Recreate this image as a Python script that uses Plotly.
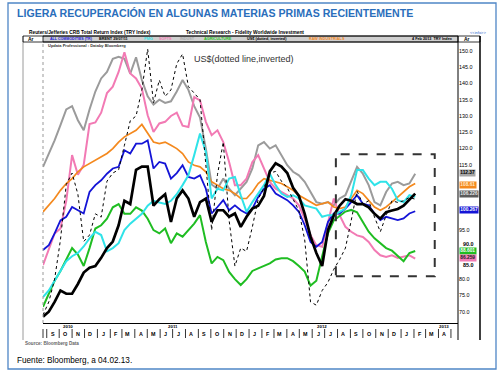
import pandas as pd
import plotly.graph_objects as go

# ---------------- data ----------------
dates = pd.date_range("2010-08-23", periods=65, freq="14D")

indust = [114.4, 118.5, 122.5, 127.2, 132.0, 133.0, 128.7, 125.6, 132.0, 137.5,
          141.5, 143.5, 147.5, 148.1, 147.5, 143.0, 148.0, 141.0, 136.0, 133.5,
          135.0, 134.0, 134.5, 137.5, 141.0, 138.0, 133.0, 129.5, 120.0, 109.0,
          107.7, 110.8, 107.7, 105.7, 107.7, 109.8, 113.9, 121.0, 122.0, 120.0,
          121.0, 118.0, 114.9, 112.9, 111.8, 109.8, 106.7, 103.6, 103.1, 103.6,
          102.6, 104.7, 105.7, 109.8, 114.4, 112.3, 108.8, 103.6, 102.6, 106.7,
          109.3, 109.8, 108.8, 109.3, 112.3]

softs = [84.3, 89.4, 94.0, 95.5, 104.0, 118.0, 112.0, 115.0, 127.5, 128.0,
         131.0, 137.0, 139.0, 143.5, 149.5, 143.0, 141.5, 138.4, 130.2, 125.1,
         127.7, 128.2, 130.0, 131.0, 127.0, 126.6, 135.8, 134.8, 128.2, 124.1,
         125.6, 122.0, 115.9, 108.8, 108.8, 110.8, 115.9, 118.0, 113.9, 109.8,
         107.7, 106.7, 105.7, 104.7, 102.6, 98.5, 93.4, 90.4, 89.9, 97.5,
         104.7, 99.6, 96.0, 94.5, 93.4, 92.9, 91.4, 88.9, 87.3, 86.8,
         87.3, 86.5, 86.8, 87.3, 86.3]

raw_ind = [100.6, 102.6, 104.7, 107.2, 109.3, 110.8, 112.9, 114.4, 115.4, 116.4,
           117.5, 118.5, 120.0, 122.0, 123.6, 124.6, 125.6, 127.4, 124.6, 122.0,
           121.5, 122.0, 121.0, 120.0, 118.5, 115.9, 114.9, 114.4, 112.9, 109.8,
           108.8, 107.7, 107.2, 106.2, 104.7, 104.7, 106.7, 109.3, 110.8, 110.3,
           109.8, 109.3, 108.3, 107.2, 105.7, 104.7, 103.6, 102.6, 103.1, 103.6,
           102.1, 101.6, 102.1, 104.7, 107.2, 106.2, 104.2, 102.1, 101.1, 102.1,
           103.6, 105.2, 106.7, 108.3, 109.3]

all_comm = [88.9, 90.4, 94.0, 98.0, 99.1, 102.1, 101.1, 100.1, 106.7, 108.8,
            110.3, 112.3, 113.9, 114.4, 119.5, 118.5, 121.5, 121.5, 122.5, 113.9,
            115.9, 115.4, 110.8, 112.5, 114.9, 111.3, 110.8, 111.8, 107.7, 100.1,
            102.1, 104.2, 101.1, 102.6, 101.1, 100.1, 101.6, 105.2, 107.7, 108.8,
            106.2, 105.2, 104.2, 102.6, 100.6, 96.5, 91.4, 89.9, 91.4, 97.5,
            100.1, 100.1, 101.6, 103.6, 105.7, 103.1, 102.6, 100.1, 98.1, 99.1,
            98.6, 98.1, 98.6, 100.1, 100.8]

pmg = [74.5, 76.5, 79.5, 82.5, 85.5, 87.0, 88.0, 90.0, 92.5, 94.5,
       93.5, 88.5, 89.5, 91.0, 95.0, 97.0, 98.5, 100.0, 102.5, 104.0,
       103.5, 103.0, 104.0, 106.0, 108.8, 111.8, 118.0, 124.6, 119.0, 104.7,
       107.7, 107.2, 110.8, 111.3, 105.7, 100.6, 103.6, 106.2, 108.8, 112.3,
       108.8, 106.2, 105.2, 105.7, 104.7, 102.6, 102.1, 101.6, 99.1, 99.6,
       99.6, 100.6, 101.6, 105.7, 113.4, 113.4, 110.8, 108.8, 109.8, 109.8,
       107.7, 104.2, 103.6, 105.7, 105.2]

brent = [68.5, 70.0, 73.0, 76.5, 75.5, 75.5, 78.5, 82.0, 83.5, 84.0,
         86.5, 89.5, 91.5, 96.5, 104.0, 103.0, 113.5, 114.5, 114.5, 102.5,
         104.5, 106.0, 97.5, 104.7, 107.2, 104.7, 99.1, 103.6, 104.7, 97.5,
         101.1, 101.1, 99.1, 100.1, 96.0, 99.1, 101.6, 102.5, 105.5, 113.0,
         115.5, 114.5, 112.5, 108.0, 105.5, 100.0, 93.0, 88.0, 84.0, 95.0,
         99.5, 102.5, 104.5, 104.0, 103.0, 103.0, 102.0, 100.0, 98.5, 100.5,
         101.0, 101.5, 102.5, 104.5, 106.2]

agri = [71.5, 75.5, 79.5, 82.5, 86.0, 89.5, 87.5, 84.0, 89.5, 95.5,
        96.5, 98.5, 102.0, 103.0, 100.0, 100.0, 102.0, 101.0, 98.5, 95.0,
        94.0, 95.5, 91.0, 94.0, 93.0, 95.0, 97.0, 99.6, 91.4, 84.8,
        86.8, 85.8, 82.2, 80.0, 78.2, 80.0, 82.5, 83.3, 84.0, 84.8,
        86.0, 86.4, 86.4, 85.5, 84.0, 82.3, 78.0, 79.5, 87.0, 94.0,
        98.0, 99.5, 100.7, 101.2, 100.5, 97.5, 94.5, 92.5, 91.0, 89.5,
        88.7, 87.0, 85.5, 88.0, 88.6]

usd_inv = [69.0, 73.0, 80.0, 92.0, 109.0, 112.5, 106.0, 91.5, 93.5, 100.0,
           99.0, 110.0, 112.5, 113.5, 121.0, 128.5, 130.0, 138.0, 150.5, 134.0,
           141.0, 136.0, 138.0, 146.0, 149.0, 139.0, 137.0, 135.0, 115.0, 95.0,
           112.0, 122.0, 98.0, 84.0, 89.5, 88.5, 96.0, 104.5, 108.0, 112.5,
           113.0, 110.0, 108.0, 104.5, 101.0, 92.0, 73.0, 72.0, 76.5, 79.0,
           83.0, 86.0, 89.5, 98.0, 107.0, 103.0, 104.0, 99.0, 94.5, 99.5,
           104.0, 103.5, 104.0, 105.0, 104.5]

# right-axis tick labels drawn by the axis; 85/90 are nudged clear of the value tags
y_ticks = [70, 75, 80, 95, 115, 120, 125, 130, 135, 140, 145, 150]
y_ticks_nudged = ["90.0", "85.0"]
y_ticks_nudged_py = [244.3, 265.0]

month_letters = ["S", "O", "N", "D", "J", "F", "M", "A", "M", "J", "J", "A",
                 "S", "O", "N", "D", "J", "F", "M", "A", "M", "J", "J", "A",
                 "S", "O", "N", "D", "J", "F", "M", "A"]
month_starts = pd.date_range("2010-09-01", periods=33, freq="MS")
year_labels = ["2010", "2011", "2012", "2013"]
year_label_dates = ["2010-10-23", "2011-07-01", "2012-06-24", "2013-04-15"]

last_labels = ["112.37", "108.61", "106.226", "100.267", "88.601", "86.259"]
last_label_py = [173, 185, 194, 210, 251, 257.5]

box_x = ["2012-07-28", "2013-03-23"]
box_y = [80.9, 118.3]

# ---------------- styling ----------------
C_BLUE = "#1414d6"
C_CYAN = "#2fe3e8"
C_PINK = "#f27ab4"
C_GREY = "#9b9b9b"
C_GREEN = "#1fbd22"
C_ORANGE = "#f4891e"
NARROW = "Liberation Sans Narrow, Liberation Sans, Arial"
SANS = "Liberation Sans, Arial"

L, R, T, B = 43, 458, 42, 323   # plot area in pixels


def PX(p):
    return (p - L) / (R - L)


def PY(p):
    return (B - p) / (B - T)


fig = go.Figure()

series = [
    (indust, C_GREY, 2.0, None),
    (softs, C_PINK, 2.0, None),
    (raw_ind, C_ORANGE, 1.7, None),
    (all_comm, C_BLUE, 1.8, None),
    (agri, C_GREEN, 2.0, None),
    (pmg, C_CYAN, 2.0, None),
    (brent, "#000000", 2.7, None),
    (usd_inv, "#000000", 1.0, "dot"),
]
for vals, col, w, dash in series:
    fig.add_trace(go.Scatter(x=dates, y=vals, mode="lines",
                             line=dict(color=col, width=w, dash=dash),
                             showlegend=False, hoverinfo="skip"))

shapes = []
shapes.append(dict(type="rect", xref="x", yref="y", x0=box_x[0], x1=box_x[1],
                   y0=box_y[0], y1=box_y[1],
                   line=dict(color="#333333", width=2, dash="dash")))
shapes.append(dict(type="line", xref="paper", yref="paper", x0=0, x1=0, y0=0, y1=1,
                   line=dict(color="#999999", width=1, dash="dot")))
shapes.append(dict(type="line", xref="paper", yref="paper", x0=PX(23), x1=PX(23),
                   y0=PY(340), y1=PY(36), line=dict(color="#9a9a9a", width=1)))
shapes.append(dict(type="line", xref="paper", yref="paper", x0=PX(480), x1=PX(480),
                   y0=PY(340), y1=PY(36), line=dict(color="#000000", width=1.5)))
shapes.append(dict(type="line", xref="paper", yref="paper", x0=1, x1=1,
                   y0=PY(340), y1=PY(36), line=dict(color="#000000", width=1)))
shapes.append(dict(type="rect", xref="paper", yref="paper", x0=PX(43), x1=1,
                   y0=PY(42), y1=PY(36), fillcolor="#cfcfcf",
                   line=dict(color="#000000", width=0.8), layer="below"))
shapes.append(dict(type="rect", xref="paper", yref="paper", x0=PX(23), x1=PX(480),
                   y0=PY(42), y1=PY(36), line=dict(color="#000000", width=0.8)))
for d in month_starts:
    shapes.append(dict(type="line", xref="x", yref="paper", x0=d, x1=d,
                       y0=PY(338), y1=PY(329), line=dict(color="#000000", width=0.8)))
shapes.append(dict(type="line", xref="paper", yref="paper", x0=0, x1=0,
                   y0=PY(338), y1=PY(329), line=dict(color="#000000", width=0.8)))
shapes.append(dict(type="rect", xref="paper", yref="paper", x0=PX(8), x1=PX(496),
                   y0=PY(369), y1=PY(3), line=dict(color="#4f86c6", width=1.3)))

ann = []


def text(px, py, s, size, color="#000000", family=NARROW, bold=True,
         anchor="left"):
    t = f"<b>{s}</b>" if bold else s
    ann.append(dict(xref="paper", yref="paper", x=PX(px), y=PY(py), text=t,
                    showarrow=False, xanchor=anchor, yanchor="middle",
                    font=dict(size=size, color=color, family=family)))


text(15, 13, "LIGERA RECUPERACIÓN EN ALGUNAS MATERIAS PRIMAS RECIENTEMENTE", 10.6,
     color="#2a6ebb", family=SANS)
text(27, 32.5, "Reuters/Jefferies CRB Total Return Index (TRY Index)", 4.8)
text(184, 32.5, "Technical Research - Fidelity Worldwide Investment", 4.8)
text(468, 32.5, "&lt;&lt;info&gt;&gt;", 4.0, color="#3366cc", bold=False)
text(26, 39, "Ar", 5.0)
text(462, 39, "Ar", 5.0)
hdr = [(48, "ALL COMMODITIES (TR)", C_BLUE, 3.6), (97, "BRENT 29/07/11", "#000000", 3.8),
       (142, "PMG", C_CYAN, 3.8), (157, "SOFTS", C_PINK, 3.8),
       (178, "INDUST", "#a8a8a8", 3.8), (202, "AGRICULTURE", C_GREEN, 3.8),
       (245, "US$ (dotted, inverted)", "#000000", 3.8),
       (307, "RAW INDUSTRIALS", C_ORANGE, 3.8)]
for px, s, c, sz in hdr:
    text(px, 39, s, sz, color=c)
text(455, 39, "4 Feb 2013  TRY Index", 3.8, anchor="right")
text(46, 45.5, "Updata Professional : Databy Bloomberg", 4.0, color="#333333")
text(192, 59, "US$(dotted line,inverted)", 9.0, color="#333333", family=SANS, bold=False)
text(23, 343.5, "Source: Bloomberg Data", 4.6, color="#666666")
text(15, 360.5, "Fuente: Bloomberg, a 04.02.13.", 8.2, color="#000000", family=SANS,
     bold=False)
for s, py in zip(y_ticks_nudged, y_ticks_nudged_py):
    text(461, py, s, 5.4)

for i, m in enumerate(month_letters):
    mid = month_starts[i] + pd.Timedelta(days=14)
    ann.append(dict(xref="x", yref="paper", x=mid, y=PY(334), text=f"<b>{m}</b>",
                    showarrow=False, xanchor="center", yanchor="middle",
                    font=dict(size=5.4, color="#000000", family=NARROW)))
for s, d in zip(year_labels, year_label_dates):
    ann.append(dict(xref="x", yref="paper", x=d, y=PY(326.5), text=f"<b>{s}</b>",
                    showarrow=False, xanchor="center", yanchor="middle",
                    font=dict(size=4.4, color="#000000", family=NARROW)))

tag_styles = [("#a6a6a6", "#000000"), (C_ORANGE, "#ffe8c8"), ("#5a5a5a", "#e8e8e8"),
              (C_BLUE, "#ffffff"), (C_GREEN, "#ffffff"), (C_PINK, "#222222")]
for s, py, (bg, fg) in zip(last_labels, last_label_py, tag_styles):
    ann.append(dict(xref="paper", yref="paper", x=PX(459), y=PY(py),
                    text=f"<b>{s}</b>", showarrow=False, xanchor="left",
                    yanchor="middle", bgcolor=bg, borderpad=0.3,
                    font=dict(size=4.8, color=fg, family=NARROW)))

fig.update_layout(
    width=502, height=373,
    margin=dict(l=L, r=502 - R, t=T, b=373 - B),
    paper_bgcolor="#ffffff", plot_bgcolor="#ffffff",
    shapes=shapes, annotations=ann, showlegend=False,
    xaxis=dict(type="date", range=["2010-08-23", "2013-05-18"], showgrid=False,
               zeroline=False, showticklabels=False, ticks="",
               showline=True, linecolor="#000000", linewidth=1),
    yaxis=dict(range=[66.54, 152.67], side="right", tickvals=y_ticks,
               tickformat=".1f", showgrid=False, zeroline=False, ticks="",
               showline=False,
               tickfont=dict(size=5.4, color="#000000", family=NARROW)),
)

fig.write_html("out.html", config={"displayModeBar": False},
               post_script="document.body.style.margin='0';"
                           "document.body.style.padding='0';")
